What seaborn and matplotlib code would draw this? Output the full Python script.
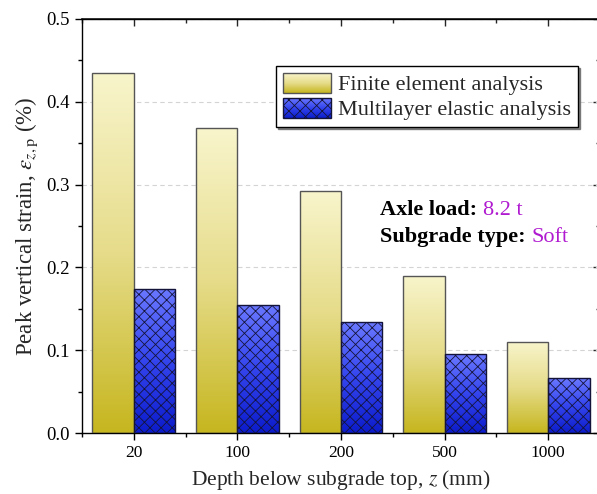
import numpy as np
import pandas as pd
import matplotlib
matplotlib.use("Agg")
import matplotlib.pyplot as plt
import seaborn as sns
from matplotlib.colors import LinearSegmentedColormap
from matplotlib.patches import Rectangle
from matplotlib.image import BboxImage
from matplotlib.transforms import Bbox, TransformedBbox
from matplotlib.legend_handler import HandlerBase
from matplotlib.ticker import MultipleLocator, FixedLocator

depths = ["20", "100", "200", "500", "1000"]
fe_values = [0.435, 0.368, 0.292, 0.190, 0.110]
ml_values = [0.174, 0.155, 0.134, 0.095, 0.066]
series = ["Finite element analysis", "Multilayer elastic analysis"]

df = pd.DataFrame({
    "depth": depths * 2,
    "strain": fe_values + ml_values,
    "method": [series[0]] * len(depths) + [series[1]] * len(depths),
})

sns.set_theme(style="white")
plt.rcParams["font.family"] = ["Liberation Serif", "DejaVu Serif"]
plt.rcParams["mathtext.fontset"] = "stix"
plt.rcParams["hatch.linewidth"] = 0.6

fe_cmap = LinearSegmentedColormap.from_list("fe", ["#c6b61f", "#e6dc8a", "#f8f5cc"])
ml_cmap = LinearSegmentedColormap.from_list("ml", ["#0c1ccc", "#3445ee", "#6a78ff"])
cmaps = [fe_cmap, ml_cmap]
edgecols = ["#555555", "#14143a"]

fig = plt.figure(figsize=(5.97, 4.94), dpi=100)
ax = fig.add_axes([82 / 597, 61 / 494, 518 / 597, 414 / 494])

sns.barplot(data=df, x="depth", y="strain", hue="method", order=depths,
            hue_order=series, palette=["#e0d680", "#3040e0"], width=0.8,
            legend=False, ax=ax, zorder=2)

grad = np.linspace(0, 1, 256).reshape(-1, 1)
for i, cont in enumerate(ax.containers):
    for bar in cont:
        x0, y0 = bar.get_x(), bar.get_y()
        w, h = bar.get_width(), bar.get_height()
        im = ax.imshow(grad, cmap=cmaps[i], origin="lower", aspect="auto",
                       extent=[x0, x0 + w, y0, y0 + h], zorder=2)
        im.set_clip_path(bar)
        bar.set_facecolor("none")
        bar.set_edgecolor(edgecols[i])
        bar.set_linewidth(1.0)
        bar.set_zorder(3)
        if i == 1:
            bar.set_hatch("xxx")

ax.set_xlim(-0.5, 4.5)
ax.set_ylim(0, 0.5)
ax.yaxis.set_major_locator(MultipleLocator(0.1))
ax.yaxis.set_minor_locator(MultipleLocator(0.05))
ax.xaxis.set_minor_locator(FixedLocator([-0.5, 0.5, 1.5, 2.5, 3.5, 4.5]))
ax.yaxis.set_major_formatter(matplotlib.ticker.FormatStrFormatter("%.1f"))

ax.grid(axis="y", which="major", linestyle=(0, (4, 3)), color="#d4d4d4", linewidth=0.8, zorder=0)
ax.set_axisbelow(True)

for sp in ax.spines.values():
    sp.set_color("black")
    sp.set_linewidth(1.0)
    sp.set_visible(True)

ax.tick_params(axis="both", which="both", direction="out", colors="black",
               top=False, right=False, bottom=True, left=True)
ax.tick_params(axis="x", labelsize=12.5)
ax.tick_params(axis="y", labelsize=13.5)
ax.tick_params(which="major", length=5, width=1)
ax.tick_params(which="minor", length=3, width=1)

ax.set_xlabel("Depth below subgrade top, $z$ (mm)", fontsize=15.5, labelpad=5)
ax.set_ylabel(r"Peak vertical strain, $\varepsilon_{z,\mathrm{p}}$ (%)", fontsize=16.5, labelpad=5)

# mirrored top/right inward ticks
ax_top = ax.secondary_xaxis("top")
ax_top.set_xticks(range(len(depths)))
ax_top.xaxis.set_minor_locator(FixedLocator([-0.5, 0.5, 1.5, 2.5, 3.5, 4.5]))
ax_top.tick_params(which="both", direction="in", labeltop=False, width=1)
ax_top.tick_params(which="major", length=5)
ax_top.tick_params(which="minor", length=3)
ax_right = ax.secondary_yaxis("right")
ax_right.yaxis.set_major_locator(MultipleLocator(0.1))
ax_right.yaxis.set_minor_locator(MultipleLocator(0.05))
ax_right.tick_params(which="both", direction="in", labelright=False, width=1)
ax_right.tick_params(which="major", length=5)
ax_right.tick_params(which="minor", length=3)


class HandlerGradient(HandlerBase):
    def __init__(self, cmap, edge, hatch=None):
        super().__init__()
        self.cmap = cmap
        self.edge = edge
        self.hatch = hatch

    def create_artists(self, legend, orig_handle, xdescent, ydescent, width,
                       height, fontsize, trans):
        bb = Bbox.from_bounds(-xdescent, -ydescent, width, height)
        tbb = TransformedBbox(bb, trans)
        img = BboxImage(tbb, cmap=self.cmap, interpolation="bilinear")
        img.set_data(grad[::-1])
        rect = Rectangle((-xdescent, -ydescent), width, height, facecolor="none",
                         edgecolor=self.edge, linewidth=1.0, hatch=self.hatch,
                         transform=trans)
        return [img, rect]


h1 = Rectangle((0, 0), 1, 1)
h2 = Rectangle((0, 0), 1, 1)
leg = ax.legend([h1, h2], series, loc="upper left",
                bbox_to_anchor=(0.375, 0.886), fontsize=16,
                handler_map={h1: HandlerGradient(fe_cmap, edgecols[0]),
                             h2: HandlerGradient(ml_cmap, edgecols[1], "xxx")},
                handlelength=2.15, handleheight=1.0, handletextpad=0.35,
                labelspacing=0.1, borderpad=0.3, fancybox=False,
                frameon=True, edgecolor="black", borderaxespad=0,
                shadow={"ox": 1.5, "oy": -1.5, "color": "#666666", "alpha": 0.8})
leg.get_frame().set_linewidth(1.0)

purple = "#b01ad0"
t1 = ax.text(0.575, 0.515, "Axle load: ", transform=ax.transAxes,
             fontsize=16, fontweight="bold", color="black", va="bottom")
ax.annotate("8.2 t", xy=(1, 0), xycoords=t1, fontsize=16, color=purple, va="bottom")
t2 = ax.text(0.575, 0.45, "Subgrade type: ", transform=ax.transAxes,
             fontsize=16, fontweight="bold", color="black", va="bottom")
ax.annotate("Soft", xy=(1, 0), xycoords=t2, fontsize=16, color=purple, va="bottom")

fig.savefig("out.png", dpi=100)
